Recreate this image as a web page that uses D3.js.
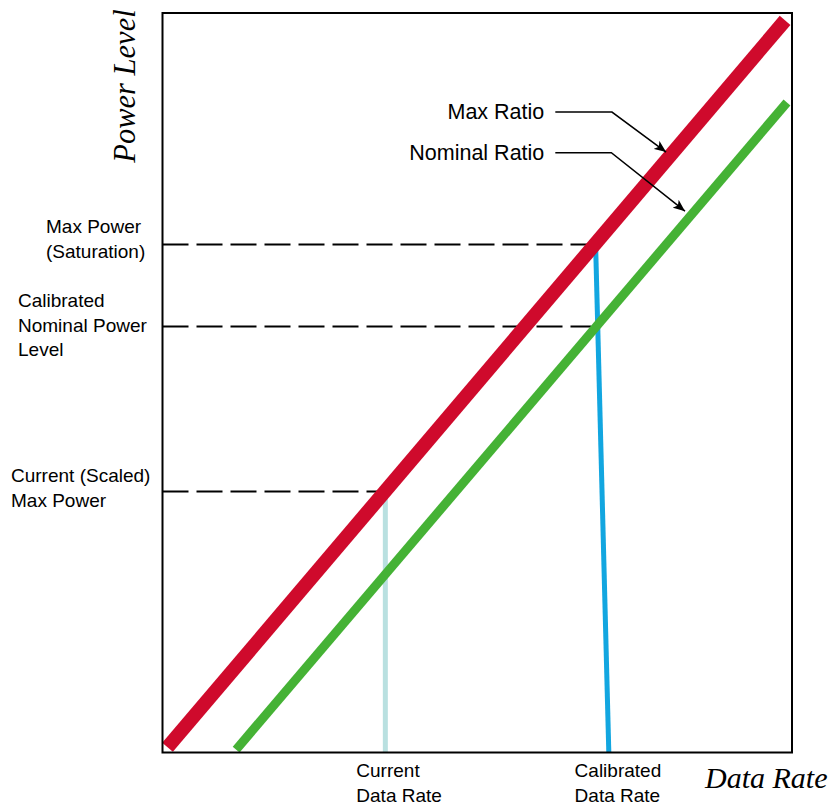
<!DOCTYPE html>
<html>
<head>
<meta charset="utf-8">
<script src="https://cdn.jsdelivr.net/npm/d3@7"></script>
<style>
	body{ margin:0; background:#fff; }
	text{ font-family:"Liberation Sans", Arial, sans-serif; fill:#000; }
	.title{ font-family:"Liberation Serif", "Times New Roman", serif; font-style:italic; }
</style>
</head>
<body>
<svg id="chart" width="837" height="806"></svg>
<script>
// data (both axes on a 0..100 scale)
var maxRatio = [ [0.8, 0.7], [98.9, 99.0] ];
var nominalRatio = [ [11.7, 0.4], [99.2, 87.9] ];

var levelNames = [ ["Max Power", "(Saturation)"], ["Calibrated", "Nominal Power", "Level"], ["Current (Scaled)", "Max Power"] ];
var levelValues = [ 68.7, 57.6, 35.3 ];
var levelEnds = [ 68.8, 68.1, 35.5 ];

var rateNames = [ ["Current", "Data Rate"], ["Calibrated", "Data Rate"] ];
var rateTop = [ [35.4, 35.3], [68.8, 68.7] ];
var rateBottom = [ [35.4, 0], [70.9, 0] ];
var rateColors = [ "#b9e0e0", "#12a6e0" ];

var ratioNames = [ "Max Ratio", "Nominal Ratio" ];
var ratioElbow = [ [71.4, 86.6], [71.3, 81.1] ];
var ratioTip = [ [80.0, 81.2], [83.0, 73.2] ];
var ratioStart = [ [62.4, 86.6], [62.4, 81.1] ];

var svg = d3.select("#chart");
var x = d3.scaleLinear().domain([0, 100]).range([162.5, 792]);
var y = d3.scaleLinear().domain([0, 100]).range([752.5, 13]);

var line = d3.line()
	.x(function(d){ return x(d[0]); })
	.y(function(d){ return y(d[1]); });

svg.append("defs").append("marker")
	.attr("id", "arrow")
	.attr("viewBox", "0 0 12 10")
	.attr("refX", 12).attr("refY", 5)
	.attr("markerWidth", 12).attr("markerHeight", 10)
	.attr("markerUnits", "userSpaceOnUse")
	.attr("orient", "auto")
	.append("path").attr("d", "M0,0 L12,5 L0,10 L3,5 Z").attr("fill", "#000");

// vertical rate lines
rateTop.forEach(function(t, i){
	svg.append("path")
		.attr("d", line([t, rateBottom[i]]))
		.attr("stroke", rateColors[i])
		.attr("stroke-width", 5)
		.attr("fill", "none");
});

// dashed level lines
levelValues.forEach(function(v, i){
	svg.append("path")
		.attr("d", line([[0, v], [levelEnds[i], v]]))
		.attr("stroke", "#000")
		.attr("stroke-width", 2)
		.attr("stroke-dasharray", "26,8")
		.attr("fill", "none");
});

// ratio lines
svg.append("path").attr("d", line(maxRatio))
	.attr("stroke", "#cf0a2c").attr("stroke-width", 14).attr("fill", "none");
svg.append("path").attr("d", line(nominalRatio))
	.attr("stroke", "#45b235").attr("stroke-width", 9).attr("fill", "none");

// frame
svg.append("rect")
	.attr("x", x(0)).attr("y", y(100))
	.attr("width", x(100) - x(0)).attr("height", y(0) - y(100))
	.attr("fill", "none").attr("stroke", "#000").attr("stroke-width", 2);

// ratio callouts
ratioNames.forEach(function(n, i){
	svg.append("path")
		.attr("d", line([ratioStart[i], ratioElbow[i], ratioTip[i]]))
		.attr("stroke", "#000").attr("stroke-width", 1.5).attr("fill", "none")
		.attr("marker-end", "url(#arrow)");
	svg.append("text")
		.attr("x", x(ratioStart[i][0]) - 11)
		.attr("y", y(ratioStart[i][1]) + 7)
		.attr("text-anchor", "end")
		.style("font-size", "21.5px")
		.text(n);
});

// level labels
var levelX = [ 46, 18, 11 ];
var levelFirst = [ 233, 307, 482 ];
levelNames.forEach(function(lines, i){
	var t = svg.append("text").style("font-size", "19px");
	lines.forEach(function(s, j){
		t.append("tspan")
			.attr("x", levelX[i])
			.attr("y", levelFirst[i] + j * 24.5)
			.text(s);
	});
});

// rate labels
rateNames.forEach(function(lines, i){
	var t = svg.append("text").style("font-size", "19px");
	lines.forEach(function(s, j){
		t.append("tspan")
			.attr("x", x(rateTop[i][0]) - (i == 0 ? 29 : 21))
			.attr("y", 777 + j * 25)
			.text(s);
	});
});

// axis titles
svg.append("text").attr("class", "title")
	.attr("x", 705).attr("y", 788)
	.style("font-size", "30px")
	.text("Data Rate");
svg.append("text").attr("class", "title")
	.attr("transform", "translate(135,86) rotate(-90)")
	.attr("text-anchor", "middle")
	.style("font-size", "30.5px")
	.text("Power Level");
</script>
</body>
</html>
